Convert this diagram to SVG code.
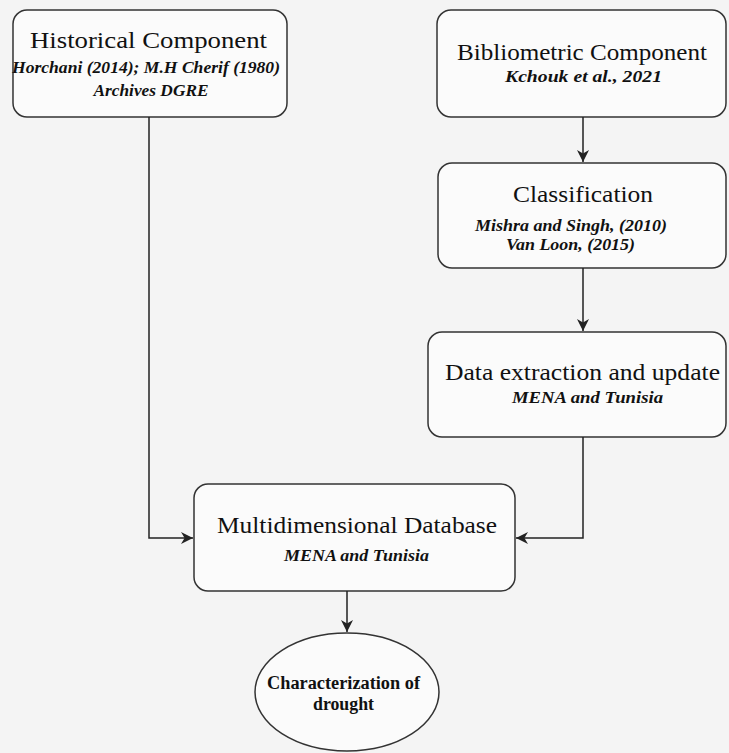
<svg xmlns="http://www.w3.org/2000/svg" width="729" height="753" viewBox="0 0 729 753">
<defs>
<marker id="arr" markerWidth="12" markerHeight="12" refX="10" refY="5" orient="auto" markerUnits="userSpaceOnUse" viewBox="0 0 10 10">
<path d="M0,0 L10,5 L0,10 L3,5 Z" fill="#222"/>
</marker>
</defs>
<style>
.box{fill:#fbfbfb;stroke:#333;stroke-width:1.5}
.t{font-family:"Liberation Serif",serif;font-size:24px;fill:#111;text-anchor:middle}
.s{font-family:"Liberation Serif",serif;font-size:17px;font-style:italic;font-weight:bold;fill:#111;text-anchor:middle}
.e{font-family:"Liberation Serif",serif;font-size:18px;font-weight:bold;fill:#111;text-anchor:middle}
.c{fill:none;stroke:#222;stroke-width:1.5}
</style>
<rect width="729" height="753" fill="#f4f4f4"/>
<g id="historical">
<rect class="box" x="13" y="10" width="274" height="107" rx="14"/>
<text class="t" x="148.5" y="48" textLength="237" lengthAdjust="spacingAndGlyphs">Historical Component</text>
<text class="s" x="146" y="73" textLength="268" lengthAdjust="spacingAndGlyphs">Horchani (2014); M.H Cherif (1980)</text>
<text class="s" x="151" y="96" textLength="115" lengthAdjust="spacingAndGlyphs">Archives DGRE</text>
</g>
<g id="bibliometric">
<rect class="box" x="437" y="10" width="289" height="107" rx="14"/>
<text class="t" x="582" y="60" textLength="250" lengthAdjust="spacingAndGlyphs">Bibliometric Component</text>
<text class="s" x="583.5" y="82" textLength="157" lengthAdjust="spacingAndGlyphs">Kchouk et al., 2021</text>
</g>
<g id="classification">
<rect class="box" x="438" y="163" width="288" height="105" rx="14"/>
<text class="t" x="583" y="202" textLength="140" lengthAdjust="spacingAndGlyphs">Classification</text>
<text class="s" x="571" y="231" textLength="192" lengthAdjust="spacingAndGlyphs">Mishra and Singh, (2010)</text>
<text class="s" x="570.5" y="250" textLength="129" lengthAdjust="spacingAndGlyphs">Van Loon, (2015)</text>
</g>
<g id="extraction">
<rect class="box" x="428" y="332" width="298" height="105" rx="14"/>
<text class="t" x="582.5" y="380" textLength="275" lengthAdjust="spacingAndGlyphs">Data extraction and update</text>
<text class="s" x="587.5" y="403" textLength="151" lengthAdjust="spacingAndGlyphs">MENA and Tunisia</text>
</g>
<g id="database">
<rect class="box" x="194" y="484" width="321" height="107" rx="14"/>
<text class="t" x="357" y="533" textLength="280" lengthAdjust="spacingAndGlyphs">Multidimensional Database</text>
<text class="s" x="356.5" y="561" textLength="145" lengthAdjust="spacingAndGlyphs">MENA and Tunisia</text>
</g>
<g id="drought">
<ellipse class="box" cx="347" cy="692" rx="92" ry="59"/>
<text class="e" x="343.5" y="689" textLength="153" lengthAdjust="spacingAndGlyphs">Characterization of</text>
<text class="e" x="343.5" y="710" textLength="61" lengthAdjust="spacingAndGlyphs">drought</text>
</g>
<g id="connectors">
<path class="c" d="M583,117 V162" marker-end="url(#arr)"/>
<path class="c" d="M583,268 V331" marker-end="url(#arr)"/>
<path class="c" d="M149,117 V538 H193" marker-end="url(#arr)"/>
<path class="c" d="M583,437 V538 H516" marker-end="url(#arr)"/>
<path class="c" d="M347,591 V632" marker-end="url(#arr)"/>
</g>
</svg>
